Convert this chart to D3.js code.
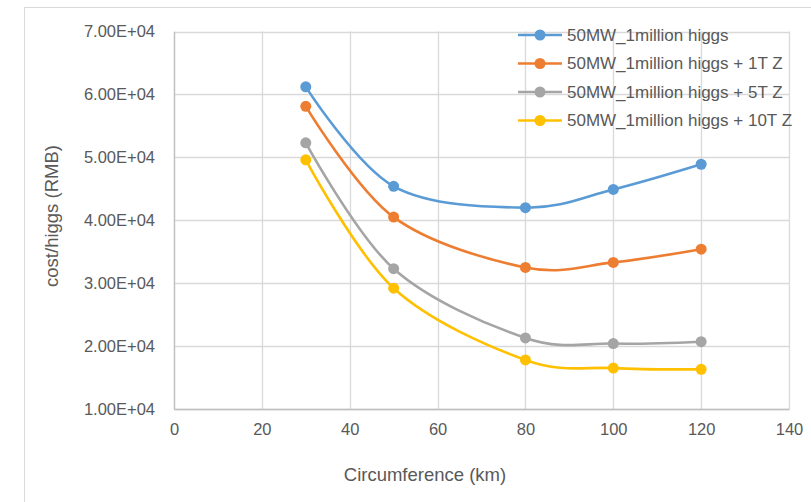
<!DOCTYPE html>
<html>
<head>
<meta charset="utf-8">
<script src="https://cdn.jsdelivr.net/npm/d3@7/dist/d3.min.js"></script>
<style>
  html, body { margin: 0; padding: 0; background: #fff; }
  svg { display: block; }
  text { font-family: "Liberation Sans", Arial, sans-serif; fill: #595959; }
</style>
</head>
<body>
<svg id="chart" width="811" height="502"></svg>
<script>
// ---- data ----
const circumference = [30, 50, 80, 100, 120];
const seriesNames = [
  "50MW_1million higgs",
  "50MW_1million higgs + 1T Z",
  "50MW_1million higgs + 5T Z",
  "50MW_1million higgs + 10T Z"
];
const higgsOnly = [61200, 45400, 42000, 44900, 48900];
const plus1TZ   = [58100, 40500, 32500, 33300, 35400];
const plus5TZ   = [52300, 32300, 21300, 20400, 20700];
const plus10TZ  = [49600, 29200, 17800, 16500, 16300];
const xTicks = [0, 20, 40, 60, 80, 100, 120, 140];
const yTicks = [10000, 20000, 30000, 40000, 50000, 60000, 70000];
const colors = ["#5b9bd5", "#ed7d31", "#a5a5a5", "#ffc000"];
const xTitle = "Circumference (km)";
const yTitle = "cost/higgs (RMB)";

const series = [higgsOnly, plus1TZ, plus5TZ, plus10TZ].map((vals, i) => ({
  name: seriesNames[i], color: colors[i],
  points: vals.map((v, j) => ({ x: circumference[j], y: v }))
}));

// ---- layout ----
const svg = d3.select("#chart");
const plot = { left: 174, right: 789, top: 31.5, bottom: 409 };

const x = d3.scaleLinear().domain([0, 140]).range([plot.left, plot.right]);
const y = d3.scaleLinear().domain([10000, 70000]).range([plot.bottom, plot.top]);

function fmtE(d) {
  const [m, e] = d.toExponential(2).split("e");
  const n = +e;
  return m + "E" + (n < 0 ? "-" : "+") + String(Math.abs(n)).padStart(2, "0");
}

// outer chart border
svg.append("rect")
  .attr("x", 24.5).attr("y", 7.5).attr("width", 820).attr("height", 520)
  .attr("fill", "none").attr("stroke", "#d9d9d9").attr("stroke-width", 1);

// gridlines
const grid = svg.append("g");
grid.selectAll("line.h").data(yTicks).join("line")
  .attr("x1", plot.left).attr("x2", plot.right)
  .attr("y1", d => Math.round(y(d)) + 0.5).attr("y2", d => Math.round(y(d)) + 0.5)
  .attr("stroke", "#d9d9d9").attr("stroke-width", 1.3);
grid.selectAll("line.v").data(xTicks).join("line")
  .attr("y1", plot.top).attr("y2", plot.bottom)
  .attr("x1", d => Math.round(x(d)) + 0.5).attr("x2", d => Math.round(x(d)) + 0.5)
  .attr("stroke", "#d9d9d9").attr("stroke-width", 1.3);

// axes
const yAxis = svg.append("g")
  .attr("transform", `translate(${plot.left},0)`)
  .call(d3.axisLeft(y).tickValues(yTicks).tickFormat(fmtE).tickSize(0).tickPadding(19));
yAxis.select(".domain").attr("stroke", "#bfbfbf").attr("stroke-width", 1.3);
yAxis.selectAll("text").attr("font-size", 16.5).attr("fill", "#595959")
  .attr("font-family", "Liberation Sans, Arial, sans-serif");

const xAxis = svg.append("g")
  .attr("transform", `translate(0,${plot.bottom})`)
  .call(d3.axisBottom(x).tickValues(xTicks).tickFormat(d3.format("d")).tickSize(0).tickPadding(14));
xAxis.select(".domain").attr("stroke", "#bfbfbf").attr("stroke-width", 1.3);
xAxis.selectAll("text").attr("font-size", 16.5).attr("fill", "#595959")
  .attr("font-family", "Liberation Sans, Arial, sans-serif");

// axis titles
svg.append("text")
  .attr("x", 425).attr("y", 481)
  .attr("text-anchor", "middle").attr("font-size", 18.5)
  .text(xTitle);
svg.append("text")
  .attr("transform", "translate(58,216) rotate(-90)")
  .attr("text-anchor", "middle").attr("font-size", 18.5)
  .text(yTitle);

// lines
const line = d3.line().x(d => x(d.x)).y(d => y(d.y)).curve(d3.curveCatmullRom.alpha(0));
const sg = svg.append("g").selectAll("g").data(series).join("g");
sg.append("path")
  .attr("d", d => line(d.points))
  .attr("fill", "none").attr("stroke", d => d.color).attr("stroke-width", 2.6)
  .attr("stroke-linecap", "round");
sg.selectAll("circle").data(d => d.points.map(p => ({ ...p, color: d.color }))).join("circle")
  .attr("cx", d => x(d.x)).attr("cy", d => y(d.y)).attr("r", 5.5)
  .attr("fill", d => d.color);

// legend
const legend = svg.append("g").attr("transform", "translate(518,35)");
const li = legend.selectAll("g").data(series).join("g")
  .attr("transform", (d, i) => `translate(0,${i * 28.5})`);
li.append("line").attr("x1", 0).attr("x2", 44).attr("y1", 0).attr("y2", 0)
  .attr("stroke", d => d.color).attr("stroke-width", 2.6);
li.append("circle").attr("cx", 22).attr("cy", 0).attr("r", 5.5).attr("fill", d => d.color);
li.append("text").attr("x", 49).attr("y", 0).attr("dy", "0.35em")
  .attr("font-size", 17).text(d => d.name);
</script>
</body>
</html>
